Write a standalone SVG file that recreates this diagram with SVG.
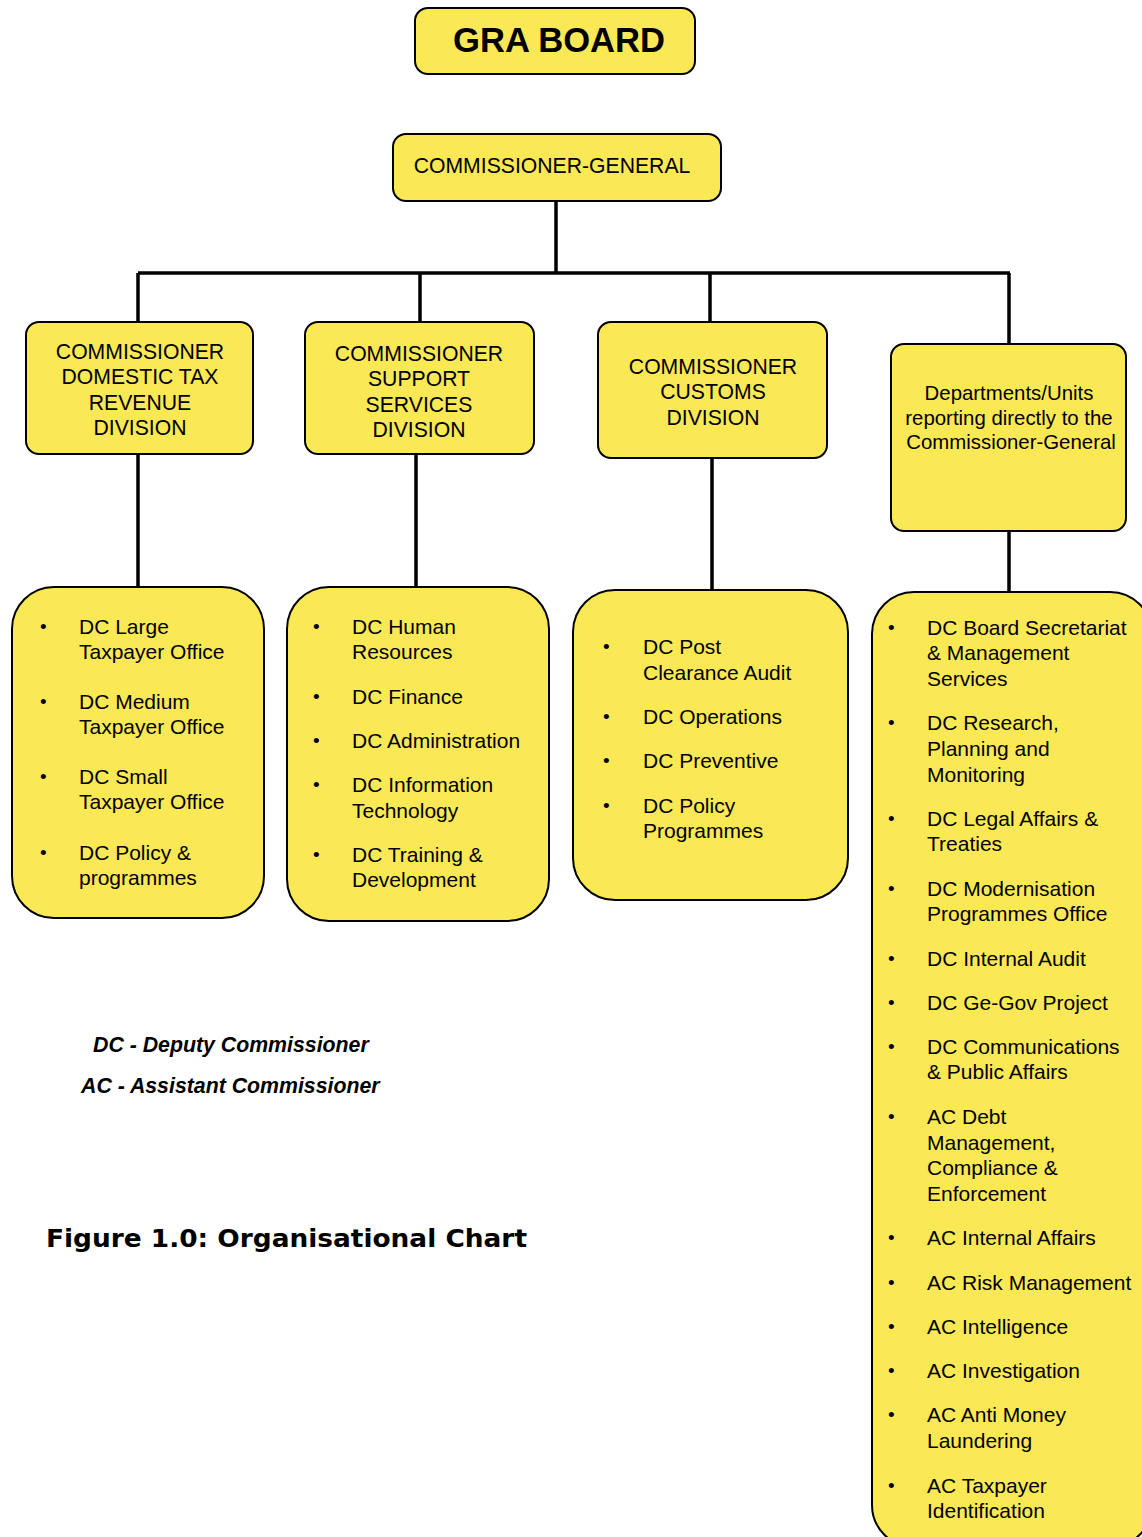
<svg xmlns="http://www.w3.org/2000/svg" width="1142" height="1537" viewBox="0 0 1142 1537">
<style>
.box{fill:#FAE955;stroke:#000;stroke-width:2}
.t{font-family:"Liberation Sans",Arial,sans-serif;font-size:21px;fill:#000}
.h{font-size:21.2px}
.c{text-anchor:middle}
.b{font-family:"Liberation Sans",Arial,sans-serif;font-size:19px;fill:#000}
.conn{stroke:#000;stroke-width:3.5;fill:none}
</style>
<rect width="1142" height="1537" fill="#fff"/>
<g id="connectors">
<path class="conn" d="M556 201V273M138 273H1010M138 273V322M420 273V322M710 273V322M1009 273V344"/>
<path class="conn" d="M138 454V587M416 454V587M712 458V590M1009 531V592"/>
</g>
<g id="gra-board">
<rect class="box" x="415" y="8" width="280" height="66" rx="13"/>
<text class="t c" x="559" y="52" style="font-size:34.6px;font-weight:bold">GRA BOARD</text>
</g>
<g id="commissioner-general">
<rect class="box" x="393" y="134" width="328" height="67" rx="13"/>
<text class="t h c" x="552" y="173">COMMISSIONER-GENERAL</text>
</g>
<g id="domestic-tax">
<rect class="box" x="26" y="322" width="227" height="132" rx="13"/>
<text class="t h c" x="140" y="359">COMMISSIONER</text>
<text class="t h c" x="140" y="384">DOMESTIC TAX</text>
<text class="t h c" x="140" y="410">REVENUE</text>
<text class="t h c" x="140" y="435">DIVISION</text>
</g>
<g id="support-services">
<rect class="box" x="305" y="322" width="229" height="132" rx="13"/>
<text class="t h c" x="419" y="361">COMMISSIONER</text>
<text class="t h c" x="419" y="386">SUPPORT</text>
<text class="t h c" x="419" y="412">SERVICES</text>
<text class="t h c" x="419" y="437">DIVISION</text>
</g>
<g id="customs">
<rect class="box" x="598" y="322" width="229" height="136" rx="13"/>
<text class="t h c" x="713" y="374">COMMISSIONER</text>
<text class="t h c" x="713" y="399">CUSTOMS</text>
<text class="t h c" x="713" y="425">DIVISION</text>
</g>
<g id="direct-units">
<rect class="box" x="891" y="344" width="235" height="187" rx="13"/>
<text class="t c" x="1009" y="400" style="font-size:20.4px">Departments/Units</text>
<text class="t c" x="1009" y="425" style="font-size:20.4px">reporting directly to the</text>
<text class="t c" x="1011" y="449" style="font-size:20.4px">Commissioner-General</text>
</g>
<g id="domestic-list">
<rect class="box" x="12" y="587" width="252" height="331" rx="42"/>
<text class="b" x="40" y="633">•</text><text class="t" x="79" y="634">DC Large</text><text class="t" x="79" y="659">Taxpayer Office</text>
<text class="b" x="40" y="708">•</text><text class="t" x="79" y="709">DC Medium</text><text class="t" x="79" y="734">Taxpayer Office</text>
<text class="b" x="40" y="783">•</text><text class="t" x="79" y="784">DC Small</text><text class="t" x="79" y="809">Taxpayer Office</text>
<text class="b" x="40" y="859">•</text><text class="t" x="79" y="860">DC Policy &amp;</text><text class="t" x="79" y="885">programmes</text>
</g>
<g id="support-list">
<rect class="box" x="287" y="587" width="262" height="334" rx="42"/>
<text class="b" x="313" y="633">•</text><text class="t" x="352" y="634">DC Human</text><text class="t" x="352" y="659">Resources</text>
<text class="b" x="313" y="703">•</text><text class="t" x="352" y="704">DC Finance</text>
<text class="b" x="313" y="747">•</text><text class="t" x="352" y="748">DC Administration</text>
<text class="b" x="313" y="791">•</text><text class="t" x="352" y="792">DC Information</text><text class="t" x="352" y="818">Technology</text>
<text class="b" x="313" y="861">•</text><text class="t" x="352" y="862">DC Training &amp;</text><text class="t" x="352" y="887">Development</text>
</g>
<g id="customs-list">
<rect class="box" x="573" y="590" width="275" height="310" rx="42"/>
<text class="b" x="603" y="653">•</text><text class="t" x="643" y="654">DC Post</text><text class="t" x="643" y="680">Clearance Audit</text>
<text class="b" x="603" y="723">•</text><text class="t" x="643" y="724">DC Operations</text>
<text class="b" x="603" y="767">•</text><text class="t" x="643" y="768">DC Preventive</text>
<text class="b" x="603" y="812">•</text><text class="t" x="643" y="813">DC Policy</text><text class="t" x="643" y="838">Programmes</text>
</g>
<g id="direct-list">
<rect class="box" x="872" y="592" width="280" height="955" rx="42"/>
<text class="b" x="888" y="634">•</text><text class="t" x="927" y="635">DC Board Secretariat</text><text class="t" x="927" y="660">&amp; Management</text><text class="t" x="927" y="686">Services</text>
<text class="b" x="888" y="729">•</text><text class="t" x="927" y="730">DC Research,</text><text class="t" x="927" y="756">Planning and</text><text class="t" x="927" y="782">Monitoring</text>
<text class="b" x="888" y="825">•</text><text class="t" x="927" y="826">DC Legal Affairs &amp;</text><text class="t" x="927" y="851">Treaties</text>
<text class="b" x="888" y="895">•</text><text class="t" x="927" y="896">DC Modernisation</text><text class="t" x="927" y="921">Programmes Office</text>
<text class="b" x="888" y="965">•</text><text class="t" x="927" y="966">DC Internal Audit</text>
<text class="b" x="888" y="1009">•</text><text class="t" x="927" y="1010">DC Ge-Gov Project</text>
<text class="b" x="888" y="1053">•</text><text class="t" x="927" y="1054">DC Communications</text><text class="t" x="927" y="1079">&amp; Public Affairs</text>
<text class="b" x="888" y="1123">•</text><text class="t" x="927" y="1124">AC Debt</text><text class="t" x="927" y="1150">Management,</text><text class="t" x="927" y="1175">Compliance &amp;</text><text class="t" x="927" y="1201">Enforcement</text>
<text class="b" x="888" y="1244">•</text><text class="t" x="927" y="1245">AC Internal Affairs</text>
<text class="b" x="888" y="1289">•</text><text class="t" x="927" y="1290">AC Risk Management</text>
<text class="b" x="888" y="1333">•</text><text class="t" x="927" y="1334">AC Intelligence</text>
<text class="b" x="888" y="1377">•</text><text class="t" x="927" y="1378">AC Investigation</text>
<text class="b" x="888" y="1421">•</text><text class="t" x="927" y="1422">AC Anti Money</text><text class="t" x="927" y="1448">Laundering</text>
<text class="b" x="888" y="1492">•</text><text class="t" x="927" y="1493">AC Taxpayer</text><text class="t" x="927" y="1518">Identification</text>
</g>
<g id="legend">
<text class="t" x="93" y="1052" style="font-size:21.3px;font-weight:bold;font-style:italic">DC - Deputy Commissioner</text>
<text class="t" x="81" y="1093" style="font-size:21.3px;font-weight:bold;font-style:italic">AC - Assistant Commissioner</text>
<text x="46" y="1247" style="font-family:'DejaVu Sans',Verdana,sans-serif;font-weight:bold;font-size:25px" textLength="481" lengthAdjust="spacingAndGlyphs">Figure 1.0: Organisational Chart</text>
</g>
</svg>
